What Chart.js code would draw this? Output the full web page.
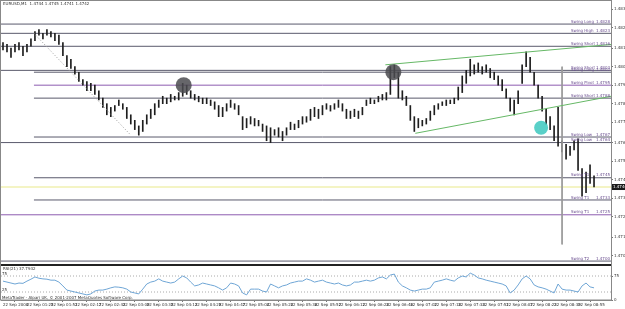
<!DOCTYPE html>
<html>
<head>
<meta charset="utf-8">
<style>
    html, body { margin: 0; padding: 0; background: #fff; }
    #wrap { width: 625px; height: 309px; }
</style>
</head>
<body>
<div id="wrap"><canvas id="chart"></canvas></div>
<script src="https://cdn.jsdelivr.net/npm/chart.js"></script>
<script>
    const symbolTitle = "EURUSD,M1  1.4744 1.4745 1.4741 1.4742";
    const rsiTitle = "RSI(21) 37.7932";
    const footerText = "MetaTrader - Alpari UK, \u00a9 2001-2007 MetaQuotes Software Corp.";

    // one value per M1 bar
    const barHigh = [
        1.4818, 1.4817, 1.4815, 1.4817, 1.4818, 1.4816, 1.4817, 1.4820, 1.4824, 1.4825,
        1.4823, 1.4825, 1.4824, 1.4823, 1.4822, 1.4818, 1.4811, 1.4809, 1.4805, 1.4802,
        1.4798, 1.4797, 1.4796, 1.4795, 1.4792, 1.4788, 1.4785, 1.4783, 1.4784, 1.4787,
        1.4785, 1.4783, 1.4779, 1.4776, 1.4773, 1.4776, 1.4779, 1.4782, 1.4785, 1.4787,
        1.4789, 1.4788, 1.4790, 1.4789, 1.4791, 1.4796, 1.4795, 1.4792, 1.4790, 1.4789,
        1.4788, 1.4788, 1.4787, 1.4786, 1.4784, 1.4783, 1.4785, 1.4787, 1.4785, 1.4784,
        1.4778, 1.4777, 1.4778, 1.4777, 1.4776, 1.4774, 1.4773, 1.4772, 1.4771, 1.4772,
        1.4770, 1.4772, 1.4775, 1.4774, 1.4776, 1.4778, 1.4778, 1.4782, 1.4783, 1.4782,
        1.4784, 1.4785, 1.4784, 1.4785, 1.4787, 1.4785, 1.4782, 1.4781, 1.4782, 1.4781,
        1.4783, 1.4787, 1.4788, 1.4787, 1.4789, 1.4790, 1.4791, 1.4805, 1.4806, 1.4802,
        1.4792, 1.4789, 1.4784, 1.4778, 1.4777, 1.4776, 1.4777, 1.4781, 1.4784, 1.4785,
        1.4786, 1.4787, 1.4787, 1.4788, 1.4794, 1.4800, 1.4803, 1.4809, 1.4806, 1.4807,
        1.4805, 1.4806, 1.4804, 1.4802, 1.4800, 1.4798, 1.4793, 1.4788, 1.4787, 1.4792,
        1.4806, 1.4813, 1.4810, 1.4802, 1.4795, 1.4789, 1.4782, 1.4778, 1.4773, 1.4783,
        1.4765, 1.4763, 1.4762, 1.4765, 1.4766, 1.4750, 1.4748, 1.4752, 1.4746
    ];
    const barLow = [
        1.4814, 1.4813, 1.4810, 1.4813, 1.4814, 1.4811, 1.4813, 1.4816, 1.4819, 1.4822,
        1.4820, 1.4822, 1.4821, 1.4819, 1.4817, 1.4811, 1.4805, 1.4804, 1.4801, 1.4797,
        1.4795, 1.4792, 1.4792, 1.4790, 1.4787, 1.4783, 1.4779, 1.4778, 1.4781, 1.4784,
        1.4782, 1.4777, 1.4774, 1.4771, 1.4768, 1.4770, 1.4774, 1.4777, 1.4779, 1.4783,
        1.4785, 1.4785, 1.4786, 1.4787, 1.4787, 1.4789, 1.4790, 1.4788, 1.4787, 1.4786,
        1.4785, 1.4785, 1.4784, 1.4782, 1.4778, 1.4778, 1.4781, 1.4783, 1.4782, 1.4779,
        1.4771, 1.4772, 1.4774, 1.4773, 1.4773, 1.4770, 1.4765, 1.4764, 1.4768, 1.4767,
        1.4765, 1.4768, 1.4771, 1.4771, 1.4772, 1.4774, 1.4775, 1.4776, 1.4778, 1.4777,
        1.4779, 1.4782, 1.4781, 1.4782, 1.4783, 1.4781, 1.4777, 1.4777, 1.4778, 1.4777,
        1.4779, 1.4784, 1.4785, 1.4785, 1.4786, 1.4787, 1.4787, 1.4790, 1.4799, 1.4788,
        1.4787, 1.4784, 1.4776, 1.4770, 1.4772, 1.4773, 1.4774, 1.4776, 1.4779, 1.4782,
        1.4784, 1.4784, 1.4785, 1.4785, 1.4787, 1.4791, 1.4796, 1.4800, 1.4801, 1.4802,
        1.4801, 1.4802, 1.4799, 1.4798, 1.4795, 1.4792, 1.4788, 1.4781, 1.4779, 1.4785,
        1.4796, 1.4805, 1.4802, 1.4795, 1.4788, 1.4781, 1.4774, 1.4771, 1.4765, 1.4762,
        1.4759, 1.4755, 1.4757, 1.4760, 1.4749, 1.4735, 1.4737, 1.4742, 1.4740
    ];
    const rsiValues = [
        59, 56, 53, 50, 53, 52, 59, 65, 72, 68,
        66, 65, 62, 62, 56, 44, 31, 28, 25, 22,
        19, 16, 19, 28, 31, 31, 34, 38, 41, 40,
        38, 34, 25, 22, 19, 34, 50, 56, 59, 66,
        59, 56, 53, 56, 66, 75, 69, 56, 44, 47,
        53, 50, 47, 44, 38, 31, 38, 53, 50, 44,
        22, 16, 34, 34, 34, 28, 25, 50, 44, 38,
        44, 47, 53, 56, 59, 59, 66, 62, 56, 59,
        62, 56, 53, 50, 53, 47, 44, 47, 56, 56,
        59, 62, 59, 62, 69, 72, 66, 78, 81, 56,
        44, 38, 31, 28, 31, 34, 34, 38, 56, 59,
        62, 66, 62, 59, 69, 75, 72, 84, 78, 69,
        66, 62, 59, 56, 53, 50, 44, 22, 31, 47,
        66, 75, 66, 47, 41, 38, 34, 28, 22, 50,
        34, 31, 31, 28, 25, 44, 53, 41, 38
    ];

    // one label every 6 bars
    const timeLabels = [
        "22 Sep 2008", "22 Sep 01:25", "22 Sep 01:51", "22 Sep 02:17", "22 Sep 02:43",
        "22 Sep 03:09", "22 Sep 03:35", "22 Sep 04:13", "22 Sep 04:29", "22 Sep 04:47",
        "22 Sep 05:04", "22 Sep 05:20", "22 Sep 05:36", "22 Sep 05:52", "22 Sep 06:12",
        "22 Sep 06:28", "22 Sep 06:46", "22 Sep 07:02", "22 Sep 07:18", "22 Sep 07:34",
        "22 Sep 07:51", "22 Sep 08:07", "22 Sep 08:23", "22 Sep 08:39", "22 Sep 08:55"
    ];
    const priceTicks = [1.4836, 1.4826, 1.4815, 1.4805, 1.4795, 1.4785, 1.4775, 1.4764,
                        1.4754, 1.4744, 1.4734, 1.4724, 1.4713, 1.4703];
    const rsiTicks = [0, 25, 75, 100];
    const rsiLevels = [75, 25];

    // horizontal swing levels (price, name, first bar)
    const levelPrices = [1.4828, 1.4823, 1.4816, 1.4803, 1.4802, 1.4795, 1.4788,
                         1.4767, 1.4764, 1.4745, 1.4740, 1.4733, 1.4725, 1.4700];
    const levelNames = ["Swing Long", "Swing High", "Swing Short", "Swing Short", "Swing Long",
                        "Swing Pivot", "Swing Short", "Swing Low", "Swing Low", "Swing T1",
                        "", "Swing T1", "Swing T1", "Swing T2"];
    const levelFrom = [-0.5, -0.5, -0.5, -0.5, 7.75, 7.75, 7.75, 7.75, -0.5, 7.75, -0.5, 7.75, -0.5, -0.5];
    const bidPrice = 1.4740;

    // drawn objects: [bar, price] end points
    const dottedLine = [[7.75, 1.4823], [32, 1.4768]];
    const upperChannel = [[95.75, 1.4806], [152.25, 1.4817]];
    const lowerChannel = [[103.25, 1.4769], [152.25, 1.4789]];
    const verticalLine = [[140, 1.4805], [140, 1.4709]];
    const grayMarks = [[45.25, 1.4795], [97.75, 1.4802]];
    const cyanMarks = [[134.75, 1.4772]];

    const xMin = -0.5, xMax = 152.25;
    const tiny = { size: 4, family: 'DejaVu Sans' };
    const purpleLevels = [5, 12];

    const pts = arr => arr.map(p => ({ x: p[0], y: p[1] }));

    const datasets = [];
    levelPrices.forEach((p, k) => {
        let col = '#5a5a6c';
        if (levelNames[k] === '') col = '#e9e98a';
        else if (purpleLevels.includes(k)) col = '#8d5cb0';
        datasets.push({
            type: 'line', yAxisID: 'y', order: 6,
            data: [{ x: levelFrom[k], y: p }, { x: xMax, y: p }],
            borderColor: col, borderWidth: 1, pointRadius: 0
        });
    });
    datasets.push({
        type: 'bar', yAxisID: 'y', order: 3,
        data: barHigh.map((h, i) => ({ x: i, y: [barLow[i], h] })),
        backgroundColor: '#1e1e1e', barThickness: 1, minBarLength: 1
    });
    datasets.push({ type: 'line', yAxisID: 'y', order: 2, data: pts(dottedLine),
        borderColor: '#9a9a9a', borderWidth: 1, borderDash: [1, 2], pointRadius: 0 });
    datasets.push({ type: 'line', yAxisID: 'y', order: 2, data: pts(upperChannel),
        borderColor: '#66b866', borderWidth: 1, pointRadius: 0 });
    datasets.push({ type: 'line', yAxisID: 'y', order: 2, data: pts(lowerChannel),
        borderColor: '#66b866', borderWidth: 1, pointRadius: 0 });
    datasets.push({ type: 'line', yAxisID: 'y', order: 2, data: pts(verticalLine),
        borderColor: '#9a9a9a', borderWidth: 1, pointRadius: 0 });
    datasets.push({ type: 'scatter', yAxisID: 'y', order: 1, data: pts(grayMarks),
        pointRadius: 8, backgroundColor: 'rgba(75,75,80,0.85)', borderWidth: 0 });
    datasets.push({ type: 'scatter', yAxisID: 'y', order: 1, data: pts(cyanMarks),
        pointRadius: 7, backgroundColor: 'rgba(60,200,190,0.85)', borderWidth: 0 });
    rsiLevels.forEach(v => {
        datasets.push({ type: 'line', yAxisID: 'rsi', order: 5,
            data: [{ x: xMin, y: v }, { x: xMax, y: v }],
            borderColor: '#aaaaaa', borderWidth: 1, borderDash: [1, 2], pointRadius: 0 });
    });
    datasets.push({
        type: 'line', yAxisID: 'rsi', order: 2,
        data: rsiValues.map((v, i) => ({ x: i, y: v })),
        borderColor: '#6fa6d6', borderWidth: 1, pointRadius: 0, tension: 0
    });

    const decor = {
        id: 'decor',
        beforeDraw(chart) {
            const c = chart.ctx;
            c.save();
            c.fillStyle = '#fff';
            c.fillRect(0, 0, chart.width, chart.height);
            c.restore();
        },
        afterDraw(chart) {
            const c = chart.ctx, a = chart.chartArea;
            const ys = chart.scales.y, rs = chart.scales.rsi;
            c.save();
            c.font = '4px "DejaVu Sans"';
            c.textBaseline = 'top';
            c.fillStyle = '#333';
            c.fillText(symbolTitle, a.left + 2, 2);

            // level captions
            c.fillStyle = '#6b4f90';
            c.textBaseline = 'bottom';
            levelPrices.forEach((p, k) => {
                if (!levelNames[k]) return;
                const py = ys.getPixelForValue(p);
                c.textAlign = 'left';
                c.fillText(levelNames[k], a.right - 40, py - 0.5);
                c.textAlign = 'right';
                c.fillText(p.toFixed(4), a.right - 1, py - 0.5);
            });

            // bid box on the axis
            const by = ys.getPixelForValue(bidPrice);
            c.fillStyle = '#1a1a1a';
            c.fillRect(a.right + 1, by - 3, chart.width - a.right - 1, 6);
            c.fillStyle = '#fff';
            c.textAlign = 'left';
            c.textBaseline = 'middle';
            c.fillText(bidPrice.toFixed(4), a.right + 2, by);

            // pane separator
            c.fillStyle = '#222';
            c.fillRect(a.left, ys.bottom + 2, a.right - a.left, 2);

            // rsi captions
            c.fillStyle = '#333';
            c.textBaseline = 'top';
            c.fillText(rsiTitle, a.left + 2, ys.bottom + 5);
            c.textBaseline = 'middle';
            rsiLevels.forEach(v => c.fillText(String(v), a.left + 1, rs.getPixelForValue(v) - 2));
            c.textBaseline = 'bottom';
            c.fillText(footerText, a.left + 1, a.bottom - 0.5);

            // frame
            c.strokeStyle = '#888';
            c.lineWidth = 1;
            c.strokeRect(a.left - 0.5, 0.5, a.right - a.left + 1, a.bottom - 0.5);
            c.restore();
        }
    };

    const noPad = ax => { ax.paddingLeft = 0; ax.paddingRight = 0; ax.paddingTop = 0; ax.paddingBottom = 0; };

    new Chart(document.getElementById('chart').getContext('2d'), {
        type: 'line',
        data: { datasets: datasets },
        options: {
            responsive: true,
            maintainAspectRatio: false,
            animation: false,
            layout: { autoPadding: false, padding: { left: 1, top: 0, right: 0, bottom: 0 } },
            plugins: { legend: { display: false }, tooltip: { enabled: false } },
            scales: {
                x: {
                    type: 'linear', min: xMin, max: xMax, offset: false,
                    grid: { drawOnChartArea: false, tickLength: 2, color: '#777' },
                    border: { color: '#888' },
                    ticks: {
                        autoSkip: false, maxRotation: 0, align: 'start', padding: 1,
                        font: tiny, color: '#333',
                        callback: v => timeLabels[Math.round(v / 6)]
                    },
                    afterBuildTicks: ax => { ax.ticks = timeLabels.map((_, k) => ({ value: k * 6 })); },
                    afterFit: ax => { ax.height = 9; noPad(ax); }
                },
                y: {
                    type: 'linear', position: 'right', stack: 'pane', stackWeight: 262,
                    min: 1.46995, max: 1.4841,
                    grid: { drawOnChartArea: false, tickLength: 2, color: '#777' },
                    border: { color: '#888' },
                    ticks: { font: tiny, color: '#333', padding: 1, callback: v => v.toFixed(4) },
                    afterBuildTicks: ax => { ax.ticks = priceTicks.map(v => ({ value: v })); },
                    afterFit: ax => { ax.width = 14; noPad(ax); }
                },
                rsi: {
                    type: 'linear', position: 'right', stack: 'pane', stackWeight: 38,
                    min: 0, max: 118.75,
                    grid: { drawOnChartArea: false, tickLength: 2, color: '#777' },
                    border: { color: '#888' },
                    ticks: { font: tiny, color: '#333', padding: 1 },
                    afterBuildTicks: ax => { ax.ticks = rsiTicks.map(v => ({ value: v })); },
                    afterFit: ax => { ax.width = 14; noPad(ax); }
                }
            }
        },
        plugins: [decor]
    });
</script>
</body>
</html>
